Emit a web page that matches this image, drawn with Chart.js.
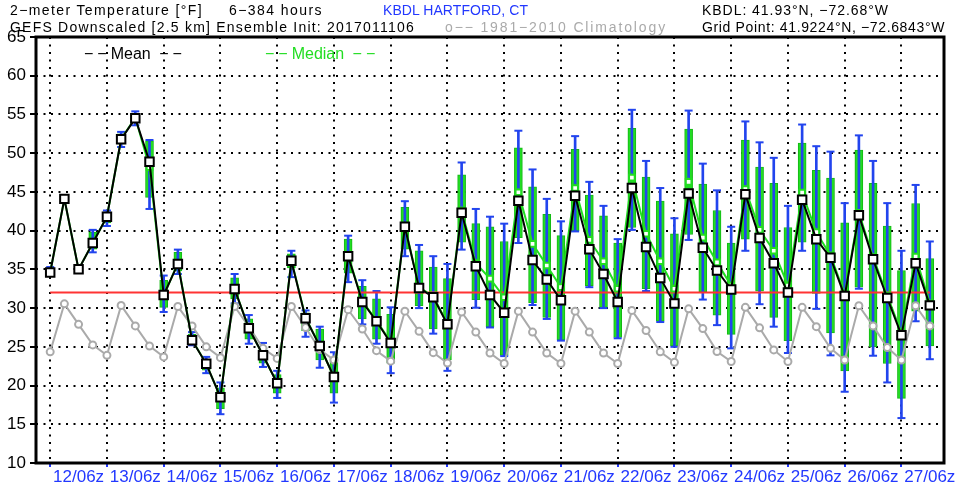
<!DOCTYPE html>
<html>
<head>
<meta charset="utf-8">
<script src="https://cdn.jsdelivr.net/npm/chart.js@4.4.1/dist/chart.umd.min.js"></script>
<style>
  html, body { margin: 0; padding: 0; background: #fff; }
  #wrap { position: relative; width: 963px; height: 502px; }
  .lbl { position: absolute; white-space: nowrap; font-family: "Liberation Sans", Arial, sans-serif; font-size: 14px; line-height: 16px; }
  .leg { position: absolute; white-space: nowrap; font-family: "Liberation Sans", Arial, sans-serif; font-size: 16px; line-height: 18px; }
  .leg .d { letter-spacing: 4px; }
</style>
</head>
<body>
<div id="wrap">
  <canvas id="myChart" width="963" height="502"></canvas>
  <div class="lbl" data-w="193" style="left:10px; top:2px; color:#000;">2−meter Temperature [°F]</div>
  <div class="lbl" data-w="94" style="left:229px; top:2px; color:#000;">6−384 hours</div>
  <div class="lbl" data-w="145" style="left:383px; top:2px; color:#2238ff;">KBDL HARTFORD, CT</div>
  <div class="lbl" data-w="187" style="left:702px; top:2px; color:#000;">KBDL: 41.93°N, −72.68°W</div>
  <div class="lbl" data-w="405" style="left:10px; top:19px; color:#000;">GEFS Downscaled [2.5 km] Ensemble Init: 2017011106</div>
  <div class="lbl" data-w="222" style="left:445px; top:19px; color:#aaa;">o−− 1981−2010 Climatology</div>
  <div class="lbl" data-w="243" style="left:702px; top:19px; color:#000;">Grid Point: 41.9224°N, −72.6843°W</div>
  <div class="leg" style="left:84px; top:45px; color:#000;"><span class="d">−−</span>Mean<span class="d"> −−</span></div>
  <div class="leg" style="left:265px; top:45px; color:#22dd22;"><span class="d">−−</span>Median<span class="d"> −−</span></div>
</div>
<script>
// forecast lead times (hours after 2017011106), one every 6 h
const leadHours = Array.from({length: 63}, (_, i) => 12 + 6 * i);

const meanTemp = [34.6, 44.1, 35.0, 38.4, 41.8, 51.8, 54.5, 48.9, 31.7, 35.7,
  25.85, 22.8, 18.5, 32.45, 27.4, 23.9, 20.3, 36.1, 28.7, 25.1,
  21.1, 36.7, 30.8, 28.3, 25.5, 40.5, 32.6, 31.4, 27.9, 42.3,
  35.4, 31.7, 29.4, 43.85, 36.2, 33.7, 31.0, 44.5, 37.6, 34.4,
  30.8, 45.5, 37.9, 33.9, 30.6, 44.8, 37.8, 34.85, 32.4, 44.7,
  39.05, 35.8, 32.0, 44.0, 38.9, 36.5, 31.55, 42.0, 36.3, 31.3,
  26.5, 35.8, 30.35];

const medianTemp = [34.6, 44.1, 35.0, 38.4, 41.8, 51.8, 54.6, 48.2, 31.6, 35.8,
  25.9, 22.8, 18.5, 32.5, 27.4, 23.9, 20.3, 36.2, 28.8, 25.1,
  21.1, 36.8, 30.9, 28.4, 25.6, 40.6, 32.7, 31.5, 28.0, 42.6,
  35.8, 33.8, 31.4, 44.96, 38.3, 35.5, 32.7, 45.5, 38.8, 36.05,
  32.5, 46.85, 39.6, 36.05, 32.5, 46.3, 39.1, 35.9, 32.9, 45.35,
  40.1, 37.4, 32.9, 44.9, 39.8, 36.8, 31.8, 42.3, 36.6, 31.6,
  26.8, 36.65, 30.6];

const q25Temp = [34.4, 43.9, 34.8, 37.6, 41.0, 51.2, 54.0, 44.3, 30.1, 34.8,
  25.4, 22.0, 17.0, 31.2, 26.0, 22.9, 19.0, 35.2, 27.1, 23.3,
  19.0, 34.5, 28.6, 26.0, 22.9, 37.6, 30.3, 27.3, 23.3, 38.5,
  31.1, 27.6, 23.9, 39.1, 30.7, 28.8, 25.9, 40.0, 32.9, 30.1,
  26.2, 40.4, 32.5, 28.3, 25.1, 39.5, 32.1, 29.1, 26.6, 38.9,
  32.2, 28.8, 25.8, 38.5, 31.9, 26.8, 21.9, 32.7, 25.0, 22.85,
  18.35, 29.6, 25.1];

const q75Temp = [35.0, 44.3, 35.2, 39.8, 42.4, 52.5, 55.1, 51.6, 33.6, 37.2,
  26.6, 23.4, 19.7, 33.9, 28.6, 25.0, 21.4, 37.0, 29.4, 27.3,
  23.6, 38.9, 32.8, 31.2, 29.2, 43.0, 37.4, 35.3, 33.8, 47.2,
  40.9, 40.5, 38.6, 50.7, 45.65, 42.1, 39.35, 50.5, 44.6, 41.9,
  38.4, 53.2, 46.9, 43.8, 39.6, 53.1, 46.0, 42.6, 38.4, 51.7,
  48.2, 46.1, 40.4, 51.3, 47.8, 46.8, 41.0, 50.4, 46.1, 40.6,
  34.85, 43.5, 36.4];

const minTemp = [34.2, 43.8, 34.6, 37.2, 40.6, 50.8, 53.6, 42.8, 29.5, 34.4,
  25.2, 21.6, 16.3, 30.6, 25.4, 22.4, 18.4, 34.0, 26.3, 22.3,
  17.8, 33.35, 27.9, 25.4, 21.6, 36.7, 30.0, 26.7, 21.9, 37.55,
  30.05, 27.5, 23.8, 38.4, 30.4, 28.6, 25.8, 39.9, 32.7, 30.0,
  26.1, 40.1, 32.2, 28.2, 25.0, 38.8, 31.1, 27.8, 24.8, 37.4,
  30.5, 27.6, 24.2, 37.4, 29.9, 23.9, 19.2, 32.5, 23.85, 20.4,
  15.8, 28.3, 23.4];

const maxTemp = [35.3, 44.4, 35.4, 40.1, 42.6, 52.75, 55.4, 51.7, 34.2, 37.55,
  26.9, 23.7, 20.4, 34.4, 29.1, 25.5, 21.9, 37.4, 29.7, 27.6,
  24.3, 39.35, 33.6, 32.2, 30.1, 43.8, 38.15, 36.7, 35.7, 48.8,
  42.8, 41.8, 40.9, 52.9, 47.9, 44.1, 41.2, 52.2, 46.3, 43.2,
  38.9, 55.6, 49.0, 45.5, 41.6, 55.5, 48.65, 45.2, 40.5, 54.1,
  51.4, 49.4, 43.2, 53.7, 50.9, 50.2, 43.55, 52.3, 49.0, 43.55,
  37.4, 45.9, 38.6];

const climoTemp = [24.35, 30.55, 27.9, 25.25, 23.9, 30.35, 27.7, 25.1, 23.7, 30.2,
  27.7, 25.0, 23.6, 30.2, 27.6, 24.8, 23.5, 30.2, 27.5, 24.65,
  23.3, 29.8, 27.3, 24.5, 23.15, 29.6, 27.0, 24.25, 22.9, 29.5,
  26.9, 24.2, 22.85, 29.6, 26.9, 24.2, 22.85, 29.6, 26.9, 24.2,
  22.85, 29.7, 27.1, 24.35, 23.0, 29.9, 27.35, 24.4, 23.1, 30.1,
  27.45, 24.6, 23.1, 30.1, 27.6, 24.8, 23.3, 30.3, 27.7, 24.9,
  23.3, 30.3, 27.7];

const freezingLine = 32;
const tickHours = [24, 48, 72, 96, 120, 144, 168, 192, 216, 240, 264, 288, 312, 336, 360, 384];
const tickLabels = ['12/06z', '13/06z', '14/06z', '15/06z', '16/06z', '17/06z', '18/06z', '19/06z',
  '20/06z', '21/06z', '22/06z', '23/06z', '24/06z', '25/06z', '26/06z', '27/06z'];

const pts = arr => leadHours.map((h, i) => ({x: h, y: arr[i]}));
const boxData = leadHours.map((h, i) => ({x: h, y: [q25Temp[i], q75Temp[i]]}));
const whiskData = leadHours.map((h, i) => ({x: h, y: [minTemp[i], maxTemp[i]]}));
const capData = pts(minTemp).concat(pts(maxTemp));

const frame = {
  id: 'frame',
  afterDraw(chart) {
    const {ctx, chartArea: a} = chart;
    ctx.save();
    ctx.strokeStyle = '#000';
    ctx.lineWidth = 3;
    ctx.strokeRect(a.left, a.top, a.right - a.left, a.bottom - a.top);
    ctx.restore();
  }
};

new Chart("myChart", {
  type: "line",
  data: {
    datasets: [{
      label: 'Mean',
      data: pts(meanTemp),
      borderColor: '#000',
      borderWidth: 2,
      pointStyle: 'rect',
      pointRadius: 6,
      pointBorderWidth: 2,
      pointBackgroundColor: '#fff',
      pointBorderColor: '#000',
      order: 0
    }, {
      label: 'Median',
      data: pts(medianTemp),
      borderColor: '#22dd22',
      borderWidth: 2,
      pointStyle: 'rect',
      pointRadius: 4,
      pointBorderWidth: 2,
      pointBackgroundColor: '#fff',
      pointBorderColor: '#22dd22',
      order: 1
    }, {
      label: 'Climatology',
      data: pts(climoTemp),
      borderColor: '#aaaaaa',
      borderWidth: 2,
      pointRadius: 3.5,
      pointBorderWidth: 2,
      pointBackgroundColor: '#fff',
      pointBorderColor: '#aaaaaa',
      order: 2
    }, {
      label: 'Freezing',
      data: [{x: leadHours[0], y: freezingLine}, {x: leadHours[leadHours.length - 1], y: freezingLine}],
      borderColor: '#ff3333',
      borderWidth: 2,
      pointRadius: 0,
      order: 3
    }, {
      label: 'Caps',
      data: capData,
      showLine: false,
      pointStyle: 'line',
      pointRadius: 4,
      pointBorderWidth: 2,
      pointBorderColor: '#2244ee',
      borderColor: '#2244ee',
      order: 4
    }, {
      type: 'bar',
      label: 'Range',
      data: whiskData,
      backgroundColor: '#2244ee',
      barThickness: 2,
      grouped: false,
      order: 5
    }, {
      type: 'bar',
      label: 'Box',
      data: boxData,
      backgroundColor: '#22dd22',
      borderColor: '#14b814',
      borderWidth: 1,
      borderSkipped: false,
      barThickness: 8,
      grouped: false,
      order: 6
    }]
  },
  options: {
    responsive: false,
    animation: false,
    layout: { padding: { top: 37, right: 19, left: 0, bottom: 0 } },
    elements: { line: { tension: 0 } },
    scales: {
      x: {
        type: 'linear',
        min: 6,
        max: 390,
        offset: false,
        afterFit: s => { s.height = 39; },
        afterBuildTicks: s => { s.ticks = tickHours.map(v => ({value: v})); },
        border: { display: false, dash: [2, 5.5] },
        grid: { color: '#000', lineWidth: 2, tickColor: '#2238ff', tickLength: 4, tickWidth: 2, tickBorderDash: [] },
        ticks: {
          color: '#2238ff',
          padding: 0,
          maxRotation: 0,
          autoSkip: false,
          font: { family: 'Liberation Sans', size: 17 },
          callback: v => tickLabels[tickHours.indexOf(v)]
        }
      },
      y: {
        min: 10,
        max: 65,
        afterFit: s => { s.width = 36; },
        border: { display: false, dash: [2, 5.5] },
        grid: { color: '#000', lineWidth: 2, tickColor: '#000', tickLength: 6, tickWidth: 2, tickBorderDash: [] },
        ticks: {
          stepSize: 5,
          color: '#000',
          padding: 4,
          font: { family: 'Liberation Sans', size: 17 }
        }
      }
    },
    plugins: {
      legend: { display: false },
      tooltip: { enabled: false }
    }
  },
  plugins: [frame]
});

// stretch header texts to the widths they take in the original
document.querySelectorAll('.lbl').forEach(el => {
  const natural = el.getBoundingClientRect().width;
  const n = el.textContent.length;
  el.style.letterSpacing = ((+el.dataset.w - natural) / n) + 'px';
});
</script>
</body>
</html>
